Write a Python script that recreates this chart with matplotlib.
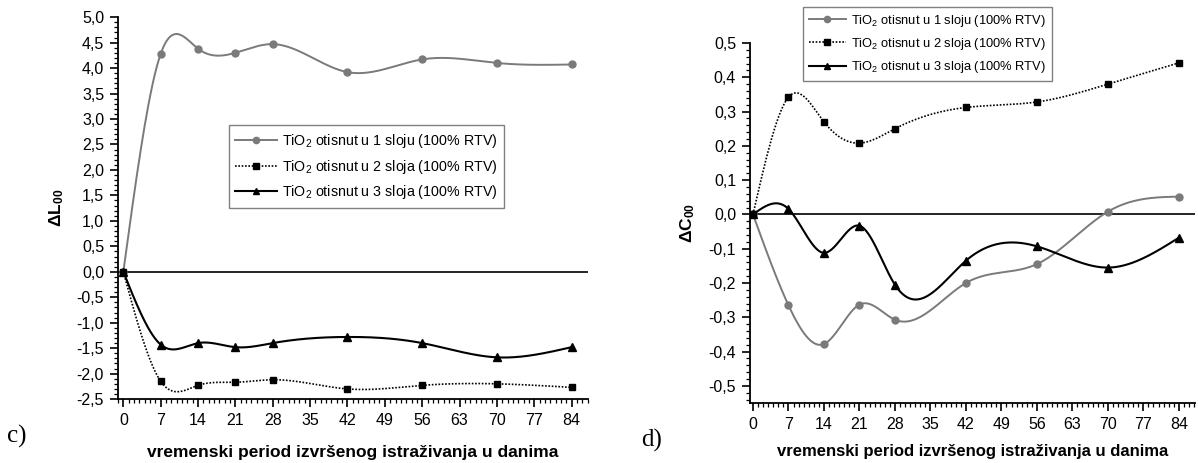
import numpy as np
import matplotlib
matplotlib.use("Agg")
import matplotlib.pyplot as plt
from matplotlib.lines import Line2D
from matplotlib.ticker import MultipleLocator, FuncFormatter

plt.rcParams['font.family'] = ['Liberation Sans', 'DejaVu Sans']
plt.rcParams['mathtext.fontset'] = 'custom'
plt.rcParams['mathtext.rm'] = 'Liberation Sans'
plt.rcParams['mathtext.bf'] = 'Liberation Sans:bold'
plt.rcParams['mathtext.it'] = 'Liberation Sans:italic'

# data
days = [0, 7, 14, 21, 28, 42, 56, 70, 84]
labels = ['TiO$_2$ otisnut u 1 sloju (100% RTV)',
          'TiO$_2$ otisnut u 2 sloja (100% RTV)',
          'TiO$_2$ otisnut u 3 sloja (100% RTV)']

dL_1 = [0, 4.28, 4.38, 4.30, 4.47, 3.92, 4.17, 4.10, 4.07]
dL_2 = [0, -2.15, -2.23, -2.17, -2.12, -2.30, -2.23, -2.20, -2.27]
dL_3 = [0, -1.43, -1.40, -1.48, -1.40, -1.28, -1.40, -1.68, -1.48]

dC_1 = [0, -0.265, -0.378, -0.263, -0.307, -0.200, -0.145, 0.008, 0.052]
dC_2 = [0, 0.342, 0.270, 0.208, 0.250, 0.312, 0.328, 0.380, 0.442]
dC_3 = [0, 0.016, -0.112, -0.033, -0.205, -0.135, -0.093, -0.155, -0.068]

xlabel = 'vremenski period izvršenog istraživanja u danima'

styles = [dict(color='#7a7a7a', ls='-', marker='o', ms=5, lw=1.4),
          dict(color='black', ls=(0, (1, 1)), marker='s', ms=4.5, lw=1.2),
          dict(color='black', ls='-', marker='^', ms=5.5, lw=1.5)]


def spline(x, y, n=400):
    # natural cubic spline, just for drawing the smooth connecting line
    x = np.asarray(x, float)
    y = np.asarray(y, float)
    h = np.diff(x)
    m = len(x)
    A = np.zeros((m, m))
    b = np.zeros(m)
    A[0, 0] = A[-1, -1] = 1
    for i in range(1, m - 1):
        A[i, i - 1] = h[i - 1]
        A[i, i] = 2 * (h[i - 1] + h[i])
        A[i, i + 1] = h[i]
        b[i] = 3 * ((y[i + 1] - y[i]) / h[i] - (y[i] - y[i - 1]) / h[i - 1])
    c = np.linalg.solve(A, b)
    bb = (y[1:] - y[:-1]) / h - h * (2 * c[:-1] + c[1:]) / 3
    d = (c[1:] - c[:-1]) / (3 * h)
    xs = np.linspace(x[0], x[-1], n)
    idx = np.clip(np.searchsorted(x, xs, side='right') - 1, 0, m - 2)
    t = xs - x[idx]
    ys = y[idx] + bb[idx] * t + c[idx] * t ** 2 + d[idx] * t ** 3
    return xs, ys


def comma(v, pos, nd=1):
    return f'{v:.{nd}f}'.replace('.', ',')


def setup(ax, ylim, major, minor, nd, xl_size, xl_pad):
    ax.set_xlim(-1, 87)
    ax.set_ylim(*ylim)
    for s in ['top', 'right']:
        ax.spines[s].set_visible(False)
    for s in ['left', 'bottom']:
        ax.spines[s].set_linewidth(1.3)
    ax.xaxis.set_major_locator(MultipleLocator(7))
    ax.xaxis.set_minor_locator(MultipleLocator(1))
    ax.yaxis.set_major_locator(MultipleLocator(major))
    ax.yaxis.set_minor_locator(MultipleLocator(minor))
    ax.yaxis.set_major_formatter(FuncFormatter(lambda v, p: comma(v, p, nd)))
    ax.tick_params(which='major', direction='out', length=6, width=1.2,
                   labelsize=11.5, pad=4)
    ax.tick_params(which='minor', direction='out', length=3, width=0.9)
    ax.axhline(0, color='black', lw=1.2, zorder=1)
    ax.set_xlabel(xlabel, fontsize=xl_size, fontweight='bold', labelpad=xl_pad)


def draw(ax, series):
    for ys, st, lab in zip(series, styles, labels):
        xs, yy = spline(days, ys)
        ax.plot(xs, yy, color=st['color'], ls=st['ls'], lw=st['lw'], zorder=3)
        ax.plot(days, ys, ls='none', marker=st['marker'], ms=st['ms'],
                color=st['color'], zorder=4)


def legend(ax, anchor, size):
    handles = [Line2D([], [], color=st['color'], ls=st['ls'], lw=st['lw'],
                      marker=st['marker'], ms=st['ms'] - 0.5) for st in styles]
    leg = ax.legend(handles, labels, loc='upper left', bbox_to_anchor=anchor,
                    numpoints=1, handlelength=2.9, fontsize=size, fancybox=False,
                    framealpha=1, edgecolor='#808080', borderpad=0.45,
                    labelspacing=0.55, handletextpad=0.4, borderaxespad=0)
    leg.get_frame().set_linewidth(1.0)


fig = plt.figure(figsize=(11.98, 4.63), dpi=100)

ax1 = fig.add_axes([0.0985, 0.138, 0.392, 0.825])
setup(ax1, (-2.5, 5.0), 0.5, 0.1, 1, 12.5, 12)
draw(ax1, [dL_1, dL_2, dL_3])
legend(ax1, (0.236, 0.717), 10.3)
ax1.set_ylabel(r'$\mathbf{\Delta L_{00}}$', fontsize=12.5, labelpad=8)

ax2 = fig.add_axes([0.626, 0.1296, 0.3715, 0.7775])
setup(ax2, (-0.55, 0.5), 0.1, 0.02, 1, 12, 9)
ax2.set_xlim(-0.6, 87.2)
draw(ax2, [dC_1, dC_2, dC_3])
legend(ax2, (0.119, 1.10), 9.3)
ax2.set_ylabel(r'$\mathbf{\Delta C_{00}}$', fontsize=12.5, labelpad=8)

fig.text(0.006, 0.045, 'c)', fontsize=18, family='Liberation Serif')
fig.text(0.535, 0.035, 'd)', fontsize=18, family='Liberation Serif')

fig.savefig('out.png', dpi=100)
